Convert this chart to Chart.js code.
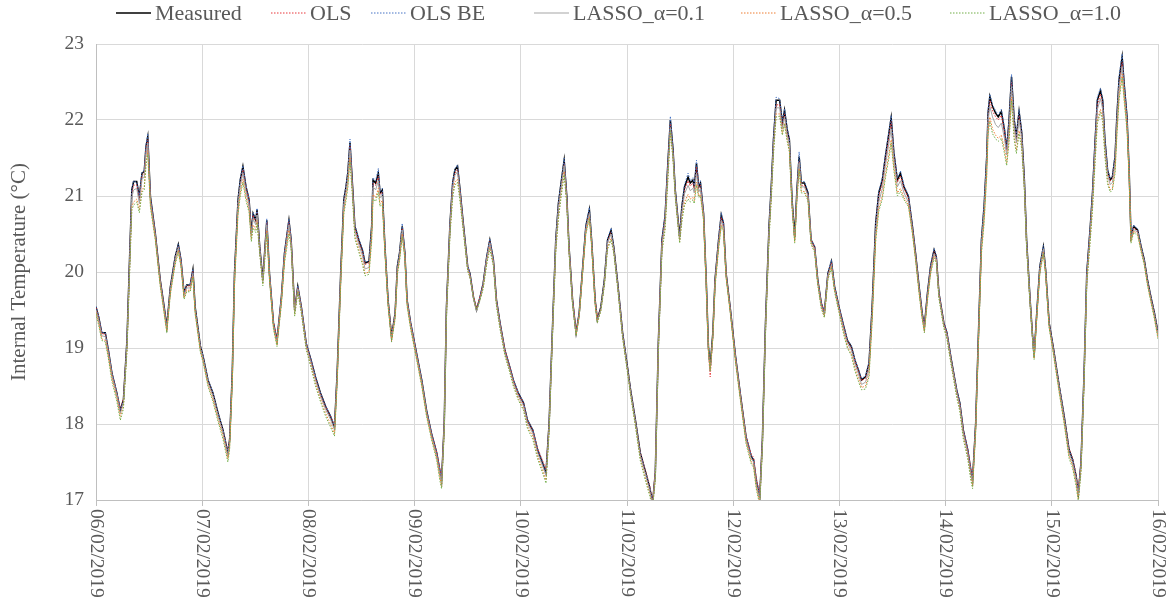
<!DOCTYPE html>
<html lang="en">
<head>
<meta charset="UTF-8">
<title>Internal Temperature</title>
<script src="https://cdn.jsdelivr.net/npm/chart.js"></script>
<style>
  body { margin: 0; background: #fff; }
</style>
</head>
<body>
<canvas id="tempChart" width="1172" height="603"></canvas>

<script>
// hours since 06/02/2019 00:00, one row per day
const hours = [
  0,0.6,1.3,2.1,2.8,3.6,4.7,5.5,6.2,7.0,7.6,8.1,8.5,9.2,9.8,10.4,10.9,11.3,11.7,12.3,13.4,14.5,15.4,16.0,16.8,17.9,18.6,19.2,19.9,20.5,21.3,21.9,22.4,23.6,
  24.2,25.3,26.4,27.6,28.7,29.8,30.2,30.8,31.3,32.1,32.6,33.2,33.9,34.6,35.1,35.5,36.1,36.4,37.0,37.7,38.6,39.2,40.1,40.9,41.9,42.6,43.6,44.1,44.9,45.6,46.4,47.5,
  48.6,49.6,50.7,51.9,53.0,53.9,54.5,55.3,56.0,56.5,56.9,57.4,57.9,58.5,59.4,60.2,60.8,61.7,62.3,62.6,63.2,63.8,64.2,64.7,65.3,66.0,66.8,67.6,68.1,68.6,69.2,69.8,70.3,71.1,
  72.2,73.6,74.7,75.8,77.0,77.7,78.1,78.7,79.2,80.0,80.6,81.1,81.7,82.2,83.0,84.0,84.5,85.3,86.0,86.8,87.5,88.3,89.0,89.8,90.5,91.3,92.4,93.5,94.3,95.4,
  96.6,97.5,98.7,99.8,100.9,101.7,102.4,103.2,103.9,104.5,105.1,105.8,106.4,106.9,107.7,108.5,109.2,110.0,110.7,111.5,112.0,112.8,113.3,114.1,114.9,115.6,116.4,117.0,117.9,118.5,119.0,
  120.1,120.8,121.9,123.0,124.1,125.1,125.8,126.4,127.1,127.9,128.6,129.2,129.8,130.4,130.9,131.9,132.4,133.0,133.8,134.3,134.9,135.2,135.7,136.2,136.6,137.3,137.9,138.4,138.8,139.4,139.9,140.7,141.3,141.8,142.4,143.3,
  144.5,145.6,146.9,148.1,148.6,149.2,150.0,150.6,151.3,152.1,152.6,153.1,153.7,154.5,155.1,155.6,156.2,156.7,157.3,157.9,158.4,158.9,159.4,160.1,160.9,161.6,162.4,163.1,163.9,164.6,165.4,166.2,166.9,167.9,
  169.0,169.8,170.7,171.5,172.3,173.0,173.9,174.7,175.4,176.2,176.9,177.7,178.4,179.2,179.7,180.3,181.1,181.8,182.6,183.6,184.5,185.2,186.0,186.7,187.2,187.9,188.6,189.4,189.9,190.5,191.6,
  192.3,193.3,194.5,195.2,196.0,197.0,197.7,198.1,198.8,199.5,200.1,200.7,201.3,201.6,202.0,202.6,203.3,203.9,204.6,205.3,205.8,206.3,206.9,207.5,208.0,208.6,209.2,209.8,210.3,211.1,211.6,212.0,212.6,213.3,214.1,214.6,215.4,
  216.3,217.7,218.8,219.9,220.7,221.5,222.0,222.6,223.3,223.9,224.7,225.2,225.8,226.3,227.0,227.5,228.0,228.6,229.2,229.7,230.3,230.7,231.2,231.9,232.4,233.0,233.5,233.9,234.5,235.4,236.2,236.9,237.6,238.4,239.2,240.0
];

const measured = [
  19.54,19.41,19.2,19.2,18.97,18.67,18.41,18.18,18.32,19.1,20.2,21.08,21.19,21.19,20.99,21.3,21.32,21.65,21.78,20.99,20.51,19.9,19.54,19.28,19.8,20.2,20.36,20.16,19.72,19.83,19.83,20.03,19.54,19.02,
  18.89,18.58,18.41,18.14,17.92,17.62,17.79,18.67,19.98,20.95,21.21,21.39,21.12,20.95,20.51,20.77,20.68,20.82,20.33,19.9,20.68,19.98,19.33,19.1,19.67,20.25,20.68,20.42,19.5,19.81,19.54,19.06,
  18.84,18.62,18.41,18.23,18.1,17.96,18.67,19.98,20.95,21.12,21.3,21.7,21.21,20.6,20.42,20.29,20.12,20.14,20.6,21.21,21.17,21.3,21.04,21.08,20.33,19.63,19.15,19.46,20.07,20.25,20.6,20.25,19.63,19.33,
  19.0,18.58,18.18,17.88,17.62,17.39,17.26,18.01,19.54,20.64,21.17,21.34,21.39,21.12,20.64,20.07,19.98,19.67,19.5,19.67,19.85,20.2,20.42,20.16,19.63,19.33,18.97,18.75,18.58,18.41,
  18.28,18.05,17.92,17.66,17.49,17.36,18.01,19.33,20.42,20.9,21.17,21.47,20.99,20.33,19.63,19.2,19.46,20.07,20.6,20.82,20.42,19.63,19.37,19.54,19.9,20.42,20.55,20.33,19.85,19.5,19.2,
  18.75,18.45,18.05,17.62,17.39,17.17,16.97,17.36,19.1,20.42,20.73,21.39,22.0,21.61,21.08,20.46,20.86,21.12,21.25,21.17,21.21,21.12,21.43,21.12,21.17,20.77,19.9,19.02,18.75,19.2,19.9,20.42,20.75,20.64,19.98,19.54,
  18.9,18.4,17.83,17.57,17.53,17.26,17.04,17.79,19.33,20.6,21.12,21.74,22.26,22.26,21.96,22.13,21.87,21.74,20.95,20.46,21.08,21.52,21.17,21.17,21.04,20.42,20.33,19.9,19.59,19.46,19.98,20.14,19.81,19.54,
  19.28,19.1,19.02,18.84,18.71,18.58,18.62,18.8,19.54,20.64,21.04,21.21,21.52,21.83,22.03,21.57,21.21,21.3,21.12,20.99,20.6,20.25,19.81,19.46,19.28,19.72,20.07,20.29,20.2,19.72,19.33,
  19.2,18.84,18.45,18.28,17.92,17.66,17.39,17.26,18.01,19.33,20.42,20.86,21.52,22.09,22.31,22.18,22.09,22.04,22.11,21.87,21.61,21.96,22.57,22.0,21.78,22.11,21.83,21.21,20.42,19.63,19.2,18.89,19.46,20.07,20.33,20.03,19.33,
  19.02,18.49,18.1,17.66,17.53,17.31,17.09,17.49,18.67,19.98,20.6,21.04,21.74,22.26,22.39,22.26,21.74,21.34,21.21,21.25,21.52,22.04,22.53,22.83,22.44,22.04,21.3,20.46,20.6,20.55,20.33,20.16,19.9,19.67,19.46,19.2
];

const ols = [
  19.53,19.4,19.19,19.18,18.96,18.66,18.4,18.2,18.33,19.08,20.18,21.04,21.14,21.15,20.96,21.27,21.3,21.62,21.74,20.97,20.5,19.9,19.53,19.29,19.79,20.19,20.34,20.15,19.71,19.81,19.82,20.01,19.53,19.02,
  18.88,18.57,18.4,18.13,17.92,17.65,17.8,18.65,19.95,20.92,21.17,21.35,21.1,20.93,20.5,20.75,20.66,20.8,20.33,19.9,20.66,19.98,19.34,19.12,19.66,20.23,20.66,20.41,19.52,19.8,19.54,19.06,
  18.83,18.6,18.4,18.22,18.1,17.98,18.65,19.95,20.92,21.1,21.27,21.66,21.18,20.58,20.4,20.27,20.1,20.12,20.57,21.17,21.14,21.26,21.02,21.05,20.33,19.63,19.17,19.46,20.05,20.23,20.57,20.24,19.63,19.33,
  19.0,18.57,18.17,17.88,17.63,17.41,17.29,18.0,19.52,20.6,21.13,21.3,21.35,21.1,20.62,20.07,19.97,19.68,19.52,19.68,19.84,20.18,20.4,20.15,19.63,19.33,18.98,18.76,18.58,18.4,
  18.27,18.04,17.92,17.68,17.52,17.4,18.0,19.3,20.38,20.86,21.13,21.43,20.97,20.32,19.64,19.22,19.45,20.05,20.57,20.78,20.4,19.64,19.4,19.53,19.88,20.4,20.52,20.32,19.85,19.5,19.2,
  18.75,18.45,18.05,17.63,17.4,17.2,16.99,17.38,19.08,20.4,20.7,21.35,21.95,21.58,21.06,20.46,20.83,21.08,21.2,21.13,21.17,21.1,21.38,21.1,21.14,20.77,19.88,18.95,18.62,19.15,19.88,20.4,20.72,20.62,19.98,19.54,
  18.9,18.4,17.84,17.6,17.56,17.3,17.08,17.8,19.3,20.56,21.08,21.7,22.2,22.2,21.92,22.08,21.84,21.7,20.93,20.44,21.04,21.46,21.14,21.14,21.02,20.42,20.33,19.9,19.6,19.47,19.96,20.12,19.8,19.54,
  19.27,19.09,19.0,18.83,18.7,18.57,18.6,18.78,19.5,20.6,21.0,21.17,21.48,21.78,21.98,21.55,21.18,21.26,21.1,20.97,20.58,20.24,19.8,19.45,19.28,19.7,20.05,20.27,20.19,19.72,19.33,
  19.2,18.83,18.44,18.27,17.92,17.67,17.42,17.3,18.0,19.3,20.38,20.82,21.48,22.04,22.26,22.12,22.04,22.0,22.06,21.84,21.6,21.92,22.5,21.96,21.76,22.06,21.8,21.2,20.42,19.63,19.22,18.92,19.45,20.05,20.31,20.02,19.33,
  19.02,18.49,18.1,17.68,17.55,17.34,17.13,17.5,18.64,19.95,20.56,21.0,21.7,22.2,22.34,22.2,21.7,21.32,21.2,21.23,21.48,22.0,22.46,22.76,22.4,22.0,21.28,20.46,20.58,20.54,20.32,20.15,19.9,19.67,19.46,19.2
];

const olsBE = [
  19.55,19.42,19.21,19.2,18.98,18.68,18.42,18.19,18.31,19.1,20.21,21.1,21.2,21.18,21.0,21.32,21.34,21.68,21.82,21.0,20.52,19.91,19.55,19.3,19.8,20.21,20.37,20.17,19.73,19.83,19.84,20.04,19.55,19.03,
  18.9,18.59,18.42,18.15,17.93,17.63,17.8,18.68,19.99,20.96,21.23,21.4,21.14,20.96,20.52,20.78,20.7,20.84,20.34,19.91,20.7,19.99,19.33,19.1,19.68,20.26,20.7,20.44,19.5,19.82,19.55,19.07,
  18.85,18.63,18.42,18.24,18.11,17.97,18.68,19.99,20.97,21.14,21.33,21.75,21.23,20.62,20.44,20.3,20.13,20.15,20.62,21.24,21.2,21.36,21.06,21.1,20.34,19.64,19.15,19.47,20.08,20.27,20.64,20.26,19.64,19.34,
  19.01,18.59,18.19,17.89,17.62,17.4,17.27,18.02,19.55,20.65,21.19,21.36,21.41,21.13,20.65,20.08,19.99,19.67,19.5,19.68,19.86,20.21,20.44,20.17,19.64,19.34,18.97,18.76,18.59,18.42,
  18.29,18.06,17.93,17.67,17.5,17.37,18.02,19.34,20.43,20.92,21.19,21.5,21.01,20.34,19.63,19.2,19.47,20.08,20.62,20.85,20.43,19.62,19.36,19.55,19.91,20.44,20.58,20.34,19.86,19.51,19.21,
  18.76,18.46,18.06,17.62,17.38,17.18,16.98,17.37,19.12,20.44,20.76,21.42,22.05,21.64,21.1,20.47,20.88,21.15,21.3,21.2,21.24,21.14,21.47,21.14,21.2,20.79,19.92,19.0,18.7,19.2,19.92,20.45,20.78,20.66,19.99,19.55,
  18.91,18.41,17.84,17.58,17.54,17.27,17.05,17.8,19.34,20.62,21.15,21.78,22.3,22.28,21.98,22.15,21.9,21.76,20.96,20.47,21.1,21.58,21.19,21.19,21.06,20.43,20.34,19.91,19.6,19.47,20.0,20.16,19.82,19.55,
  19.29,19.11,19.03,18.85,18.72,18.6,18.63,18.82,19.56,20.66,21.06,21.24,21.55,21.86,22.06,21.6,21.24,21.33,21.14,21.01,20.62,20.27,19.83,19.47,19.3,19.74,20.09,20.31,20.22,19.73,19.34,
  19.21,18.85,18.46,18.29,17.93,17.67,17.4,17.27,18.02,19.34,20.44,20.9,21.56,22.14,22.34,22.2,22.12,22.07,22.14,21.9,21.63,22.0,22.6,22.03,21.8,22.14,21.86,21.23,20.43,19.64,19.2,18.9,19.47,20.09,20.35,20.05,19.34,
  19.03,18.5,18.11,17.67,17.54,17.32,17.1,17.5,18.68,20.0,20.62,21.07,21.78,22.3,22.42,22.28,21.77,21.36,21.23,21.27,21.56,22.08,22.58,22.87,22.47,22.06,21.32,20.47,20.62,20.57,20.34,20.17,19.91,19.68,19.47,19.21
];

const lasso01 = [
  19.5,19.37,19.16,19.15,18.93,18.64,18.38,18.14,18.28,19.05,20.12,20.98,21.08,21.1,20.9,21.22,21.25,21.56,21.7,20.93,20.47,19.87,19.5,19.25,19.76,20.16,20.32,20.12,19.69,19.79,19.79,19.98,19.5,18.99,
  18.86,18.55,18.37,18.1,17.88,17.58,17.75,18.62,19.92,20.88,21.13,21.3,21.05,20.88,20.47,20.7,20.62,20.75,20.3,19.87,20.62,19.95,19.3,19.07,19.64,20.2,20.62,20.38,19.47,19.78,19.51,19.03,
  18.8,18.58,18.37,18.19,18.06,17.92,18.62,19.92,20.88,21.05,21.22,21.6,21.14,20.54,20.36,20.22,20.04,20.06,20.52,21.12,21.08,21.2,20.98,21.0,20.3,19.6,19.12,19.43,20.03,20.21,20.55,20.22,19.6,19.3,
  18.97,18.55,18.15,17.85,17.58,17.35,17.22,17.97,19.5,20.6,21.1,21.27,21.32,21.06,20.6,20.04,19.95,19.65,19.48,19.64,19.82,20.17,20.38,20.13,19.6,19.3,18.94,18.72,18.55,18.37,
  18.24,18.01,17.88,17.62,17.45,17.32,17.97,19.3,20.38,20.84,21.1,21.4,20.94,20.3,19.6,19.17,19.43,20.04,20.56,20.77,20.4,19.6,19.35,19.51,19.87,20.38,20.5,20.3,19.82,19.47,19.17,
  18.72,18.42,18.02,17.58,17.35,17.13,16.94,17.33,19.05,20.36,20.66,21.3,21.9,21.54,21.03,20.42,20.78,21.03,21.14,21.07,21.1,21.04,21.3,21.05,21.1,20.73,19.86,18.98,18.7,19.16,19.86,20.37,20.68,20.58,19.95,19.51,
  18.87,18.37,17.8,17.54,17.5,17.22,17.0,17.75,19.28,20.55,21.06,21.66,22.16,22.16,21.88,22.04,21.8,21.67,20.9,20.42,21.02,21.44,21.12,21.12,21.0,20.4,20.3,19.87,19.56,19.43,19.95,20.1,19.78,19.51,
  19.24,19.06,18.97,18.79,18.66,18.52,18.55,18.72,19.45,20.52,20.92,21.1,21.4,21.7,21.88,21.48,21.12,21.2,21.04,20.92,20.55,20.2,19.77,19.42,19.24,19.67,20.02,20.24,20.16,19.69,19.3,
  19.17,18.81,18.42,18.24,17.88,17.62,17.35,17.22,17.97,19.28,20.36,20.78,21.42,21.98,22.18,22.04,21.94,21.9,21.96,21.76,21.54,21.86,22.44,21.9,21.7,22.0,21.75,21.15,20.38,19.6,19.17,18.87,19.43,20.03,20.3,20.0,19.3,
  18.99,18.46,18.06,17.62,17.49,17.27,17.05,17.45,18.62,19.92,20.54,20.96,21.64,22.14,22.28,22.14,21.66,21.28,21.15,21.18,21.44,21.94,22.42,22.7,22.34,21.96,21.26,20.42,20.56,20.52,20.3,20.13,19.87,19.64,19.43,19.17
];

const lasso05 = [
  19.47,19.33,19.12,19.1,18.89,18.6,18.34,18.1,18.24,18.98,20.02,20.86,20.92,20.96,20.82,21.08,21.12,21.45,21.6,20.88,20.44,19.84,19.47,19.22,19.72,20.12,20.28,20.09,19.66,19.76,19.76,19.95,19.47,18.96,
  18.83,18.52,18.33,18.06,17.84,17.54,17.7,18.56,19.86,20.8,21.04,21.22,20.98,20.82,20.43,20.62,20.56,20.68,20.26,19.84,20.55,19.92,19.27,19.04,19.6,20.15,20.55,20.34,19.44,19.75,19.48,19.0,
  18.76,18.54,18.33,18.14,18.0,17.87,18.56,19.86,20.8,20.98,21.14,21.5,21.08,20.48,20.3,20.14,19.98,20.0,20.45,21.02,20.98,21.1,20.9,20.94,20.26,19.57,19.1,19.4,19.99,20.17,20.5,20.19,19.57,19.27,
  18.94,18.52,18.12,17.82,17.55,17.3,17.18,17.92,19.45,20.52,21.02,21.18,21.22,21.0,20.56,20.02,19.94,19.66,19.5,19.64,19.8,20.12,20.32,20.1,19.57,19.27,18.92,18.7,18.52,18.34,
  18.2,17.97,17.84,17.58,17.4,17.26,17.92,19.25,20.3,20.72,21.02,21.32,20.9,20.27,19.58,19.17,19.42,20.02,20.52,20.72,20.36,19.58,19.34,19.5,19.84,20.33,20.44,20.27,19.8,19.45,19.15,
  18.7,18.4,17.99,17.55,17.3,17.1,16.92,17.3,19.0,20.3,20.58,21.2,21.84,21.5,21.0,20.4,20.7,20.92,21.02,20.96,20.98,20.94,21.18,21.0,21.02,20.7,19.84,18.97,18.7,19.14,19.83,20.33,20.62,20.55,19.93,19.49,
  18.84,18.34,17.77,17.5,17.46,17.18,16.96,17.7,19.22,20.48,20.98,21.58,22.08,22.08,21.82,21.96,21.74,21.6,20.86,20.4,20.96,21.36,21.06,21.06,20.96,20.38,20.28,19.85,19.54,19.41,19.92,20.07,19.76,19.49,
  19.2,19.02,18.92,18.74,18.6,18.48,18.5,18.66,19.38,20.44,20.84,21.0,21.28,21.56,21.74,21.38,21.04,21.1,20.98,20.88,20.52,20.18,19.74,19.4,19.22,19.64,19.99,20.21,20.14,19.67,19.28,
  19.14,18.78,18.38,18.2,17.84,17.58,17.3,17.18,17.92,19.22,20.28,20.68,21.3,21.86,22.04,21.88,21.8,21.76,21.8,21.62,21.44,21.72,22.3,21.78,21.6,21.86,21.66,21.1,20.34,19.58,19.16,18.86,19.4,20.0,20.26,19.98,19.28,
  18.96,18.42,18.02,17.58,17.45,17.22,17.01,17.4,18.56,19.86,20.46,20.86,21.5,22.0,22.14,22.02,21.56,21.2,21.08,21.1,21.34,21.82,22.3,22.6,22.26,21.9,21.22,20.4,20.54,20.5,20.28,20.11,19.85,19.62,19.4,19.14
];

const lasso10 = [
  19.45,19.3,19.1,19.08,18.86,18.56,18.3,18.05,18.2,18.95,19.98,20.82,20.88,20.92,20.78,21.05,21.08,21.4,21.55,20.85,20.42,19.82,19.45,19.2,19.7,20.1,20.26,20.07,19.64,19.74,19.74,19.93,19.45,18.94,
  18.81,18.5,18.3,18.03,17.8,17.5,17.66,18.52,19.82,20.76,21.0,21.18,20.94,20.78,20.4,20.58,20.52,20.64,20.24,19.82,20.5,19.9,19.25,19.02,19.57,20.12,20.5,20.32,19.42,19.73,19.46,18.98,
  18.74,18.5,18.3,18.1,17.96,17.84,18.52,19.82,20.76,20.94,21.1,21.45,21.04,20.44,20.26,20.1,19.95,19.97,20.4,20.96,20.93,21.05,20.86,20.9,20.24,19.55,19.08,19.38,19.96,20.14,20.46,20.17,19.55,19.25,
  18.92,18.5,18.1,17.8,17.52,17.26,17.15,17.88,19.4,20.48,20.98,21.14,21.18,20.96,20.54,20.01,19.93,19.66,19.5,19.63,19.78,20.1,20.3,20.08,19.55,19.25,18.9,18.68,18.5,18.32,
  18.18,17.94,17.8,17.54,17.36,17.22,17.88,19.2,20.26,20.7,20.98,21.28,20.88,20.25,19.56,19.16,19.41,20.0,20.5,20.7,20.34,19.56,19.33,19.49,19.82,20.3,20.42,20.25,19.78,19.43,19.13,
  18.68,18.38,17.97,17.52,17.27,17.06,16.9,17.26,18.96,20.26,20.55,21.16,21.86,21.48,20.98,20.38,20.66,20.88,20.96,20.92,20.95,20.9,21.14,20.98,21.0,20.68,19.82,18.96,18.7,19.12,19.8,20.3,20.6,20.53,19.92,19.48,
  18.82,18.32,17.74,17.47,17.43,17.15,16.93,17.66,19.18,20.44,20.94,21.54,22.04,22.05,21.8,21.94,21.72,21.58,20.84,20.38,20.94,21.34,21.04,21.04,20.94,20.36,20.26,19.83,19.52,19.4,19.9,20.05,19.74,19.47,
  19.17,19.0,18.9,18.7,18.56,18.45,18.46,18.62,19.34,20.4,20.8,20.96,21.24,21.5,21.7,21.34,21.0,21.06,20.95,20.86,20.5,20.16,19.72,19.38,19.2,19.62,19.97,20.18,20.12,19.65,19.26,
  19.12,18.76,18.35,18.17,17.8,17.54,17.26,17.15,17.88,19.18,20.24,20.64,21.26,21.8,21.98,21.82,21.75,21.72,21.76,21.56,21.4,21.68,22.25,21.74,21.56,21.82,21.62,21.08,20.32,19.56,19.15,18.85,19.38,19.98,20.24,19.96,19.26,
  18.94,18.4,18.0,17.55,17.42,17.18,16.98,17.36,18.52,19.82,20.42,20.82,21.46,21.96,22.1,21.98,21.52,21.16,21.05,21.08,21.3,21.78,22.26,22.56,22.22,21.86,21.2,20.38,20.52,20.48,20.26,20.09,19.83,19.6,19.38,19.12
];

const dateLabels = ['06/02/2019','07/02/2019','08/02/2019','09/02/2019','10/02/2019','11/02/2019',
                    '12/02/2019','13/02/2019','14/02/2019','15/02/2019','16/02/2019'];

const FONT = '"Liberation Serif", "Times New Roman", serif';
const TEXT = '#595959';

function points(values) {
  return hours.map((h, i) => ({ x: h, y: values[i] }));
}

// legend along the top, drawn from the datasets' own styles
// (left edge of each entry's text, in px)
const legendTextX = [155, 310, 410, 573, 780, 989];
const topLegend = {
  id: 'topLegend',
  afterDraw(chart) {
    const ctx = chart.ctx;
    ctx.save();
    ctx.font = '22px ' + FONT;
    ctx.textBaseline = 'middle';
    const y = 13;
    chart.data.datasets.forEach((ds, i) => {
      const tx = legendTextX[i];
      ctx.strokeStyle = ds.borderColor;
      ctx.lineWidth = ds.borderWidth;
      ctx.setLineDash(ds.borderDash || []);
      ctx.beginPath();
      ctx.moveTo(tx - 39, y);
      ctx.lineTo(tx - 4, y);
      ctx.stroke();
      ctx.setLineDash([]);
      ctx.fillStyle = TEXT;
      ctx.fillText(ds.label, tx, y + 1);
    });
    ctx.restore();
  }
};

// rotated date labels under the x axis
const dateTicks = {
  id: 'dateTicks',
  afterDraw(chart) {
    const ctx = chart.ctx;
    const xs = chart.scales.x;
    ctx.save();
    ctx.font = '19.5px ' + FONT;
    ctx.fillStyle = TEXT;
    ctx.textAlign = 'left';
    ctx.textBaseline = 'middle';
    dateLabels.forEach((lab, i) => {
      ctx.save();
      ctx.translate(xs.getPixelForValue(i * 24), chart.chartArea.bottom + 9);
      ctx.rotate(Math.PI / 2);
      ctx.fillText(lab, 0, 0);
      ctx.restore();
    });
    ctx.restore();
  }
};

const ctx = document.getElementById('tempChart').getContext('2d');
new Chart(ctx, {
  type: 'line',
  data: {
    datasets: [
      { label: 'Measured', data: points(measured), borderColor: '#000000', borderWidth: 1.5, order: 6 },
      { label: 'OLS', data: points(ols), borderColor: '#e8363a', borderWidth: 1, borderDash: [1.5, 1.5], order: 5 },
      { label: 'OLS BE', data: points(olsBE), borderColor: '#4472c4', borderWidth: 1, borderDash: [1.5, 1.5], order: 4 },
      { label: 'LASSO_α=0.1', data: points(lasso01), borderColor: '#a5a5a5', borderWidth: 1, order: 3 },
      { label: 'LASSO_α=0.5', data: points(lasso05), borderColor: '#ed7d31', borderWidth: 1, borderDash: [1.5, 1.5], order: 2 },
      { label: 'LASSO_α=1.0', data: points(lasso10), borderColor: '#70ad47', borderWidth: 1, borderDash: [1.5, 1.5], order: 1 }
    ]
  },
  options: {
    responsive: false,
    animation: false,
    devicePixelRatio: 1,
    elements: { point: { radius: 0 }, line: { tension: 0, fill: false } },
    layout: { padding: { top: 44, right: 14, left: 0, bottom: 0 } },
    plugins: { legend: { display: false }, tooltip: { enabled: false } },
    scales: {
      x: {
        type: 'linear',
        min: 0,
        max: 240,
        ticks: { stepSize: 24, display: false },
        grid: { color: '#d9d9d9', drawTicks: true, tickLength: 6, tickColor: '#bfbfbf' },
        border: { color: '#bfbfbf' },
        afterFit(scale) { scale.height = 103; }
      },
      y: {
        min: 17,
        max: 23,
        ticks: { stepSize: 1, color: TEXT, font: { family: FONT, size: 19.5 }, padding: 12 },
        grid: { color: '#d9d9d9', drawTicks: false },
        border: { color: '#bfbfbf' },
        title: {
          display: true,
          text: 'Internal Temperature (°C)',
          color: TEXT,
          font: { family: FONT, size: 21 },
          padding: { top: 7, bottom: 0 }
        },
        afterFit(scale) { scale.width = 96; }
      }
    }
  },
  plugins: [topLegend, dateTicks]
});
</script>
</body>
</html>
